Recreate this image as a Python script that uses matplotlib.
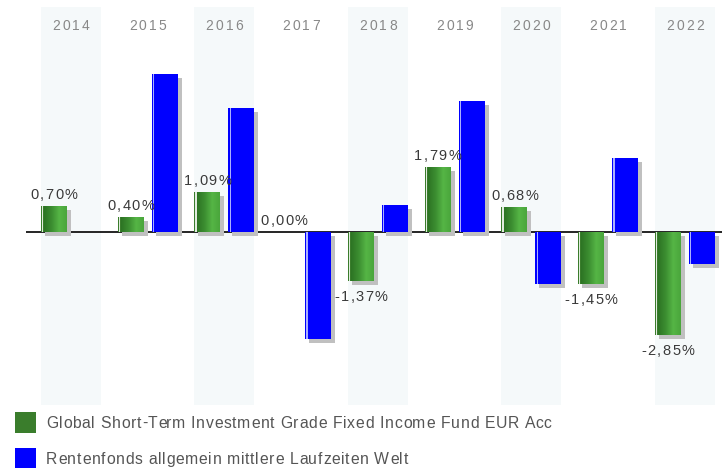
import numpy as np
import matplotlib
matplotlib.use("Agg")
import matplotlib.pyplot as plt
from matplotlib.colors import LinearSegmentedColormap
from matplotlib.patches import Rectangle
from matplotlib.font_manager import FontProperties
from matplotlib.transforms import ScaledTranslation, blended_transform_factory

# data (annual returns in %)
years = ["2014", "2015", "2016", "2017", "2018", "2019", "2020", "2021", "2022"]
fund = [0.70, 0.40, 1.09, 0.00, -1.37, 1.79, 0.68, -1.45, -2.85]
peer = [np.nan, 4.35, 3.41, -2.96, 0.73, 3.60, -1.44, 2.03, -0.89]
fund_name = "Global Short-Term Investment Grade Fixed Income Fund EUR Acc"
peer_name = "Rentenfonds allgemein mittlere Laufzeiten Welt"

GREEN = "#3a7d2c"
BLUE = "#0000ff"
SHADOW = "#c0c0c0"
BAND = "#f5f9fa"
FONT = "Liberation Sans"

plt.rcParams["font.family"] = [FONT, "DejaVu Sans"]

fig = plt.figure(figsize=(7.22, 4.68), dpi=100)
renderer = fig.canvas.get_renderer()


def spaced_text(x, y, s, transform, ha="center", va="baseline", size=10,
                color="#333333", spacing=1.0, zorder=6):
    """Draw text with extra letter spacing (in pixels), char by char."""
    prop = FontProperties(family=FONT, size=size)

    def w(t):
        if not t:
            return 0.0
        a = renderer.get_text_width_height_descent(t + "|", prop, ismath=False)[0]
        b = renderer.get_text_width_height_descent("|", prop, ismath=False)[0]
        return a - b

    pos = [w(s[:i]) + spacing * i for i in range(len(s))]
    total = w(s) + spacing * (len(s) - 1)
    start = {"left": 0.0, "center": -total / 2, "right": -total}[ha]
    for ch, p in zip(s, pos):
        if ch == " ":
            continue
        tr = transform + ScaledTranslation((start + p) / fig.dpi, 0, fig.dpi_scale_trans)
        fig.text(x, y, ch, transform=tr, ha="left", va=va, fontproperties=prop,
                 color=color, zorder=zorder)


ax = fig.add_axes([26 / 722, 1 - 405 / 468, 1 - 26 / 722, 398 / 468])
ax.set_xlim(-0.586, 8.483)
ax.set_ylim(-4.79, 6.20)
ax.axis("off")

x = np.arange(len(years))
width = 26 / 76.75
off = 17 / 76.75

# alternating background bands
for i in x[::2]:
    ax.axvspan(i - 0.391, i + 0.391, color=BAND, zorder=0, lw=0)

ax.axhline(0, color="black", lw=1.2, zorder=1)

shadow_tr = ax.transData + ScaledTranslation(4 / 100, -4 / 100, fig.dpi_scale_trans)
ax.bar(x - off, fund, width, color=SHADOW, transform=shadow_tr, zorder=2, lw=0)
ax.bar(x + off, peer, width, color=SHADOW, transform=shadow_tr, zorder=2, lw=0)

green_bars = ax.bar(x - off, fund, width, color=GREEN, zorder=3, lw=0)
blue_bars = ax.bar(x + off, peer, width, color=BLUE, zorder=3, lw=0)

# gradient fill on green bars
cmap = LinearSegmentedColormap.from_list(
    "g", ["#2d7424", "#3c8e31", "#55b545", "#4aa63c"])
grad = np.linspace(0, 1, 64).reshape(1, -1)
for b in green_bars:
    h = b.get_height()
    if h == 0:
        continue
    x0 = b.get_x() + 3 / 76.75
    x1 = b.get_x() + b.get_width()
    y0, y1 = sorted([0, h])
    im = ax.imshow(grad, cmap=cmap, aspect="auto", extent=[x0, x1, y0, y1],
                   zorder=4, interpolation="bilinear")
    im.set_clip_path(b)

# thin highlight stripe near the left edge
ax.bar(x - off - width / 2 + 1.5 / 76.75, fund, 1.2 / 76.75, color="white",
       alpha=0.85, zorder=5, lw=0)
ax.bar(x + off - width / 2 + 1.8 / 76.75, peer, 1.2 / 76.75, color="#aab0ff",
       zorder=5, lw=0)

# value labels on the fund bars (baseline offset in px)
for xi, v in zip(x, fund):
    dy = -20 if v < 0 else 6.7
    tr = ax.transData + ScaledTranslation(0, dy / 100, fig.dpi_scale_trans)
    spaced_text(xi - off, v, f"{v:.2f}%".replace(".", ","), tr,
                size=10.5, color="#3a3a3a", spacing=1.4)

# year labels
tr = blended_transform_factory(ax.transData, ax.transAxes)
for xi, yr in zip(x, years):
    spaced_text(xi, (405 - 30) / 398, yr, tr, size=10, color="#888888",
                spacing=2.2)

# legend
fig.add_artist(Rectangle((15 / 722, 1 - 433 / 468), 21 / 722, 21 / 468,
                         transform=fig.transFigure, color=GREEN, lw=0))
fig.add_artist(Rectangle((15 / 722, 1 - 468 / 468), 21 / 722, 20 / 468,
                         transform=fig.transFigure, color=BLUE, lw=0))
spaced_text(46 / 722, 1 - 428.3 / 468, fund_name, fig.transFigure, ha="left",
            size=11.3, color="#555555", spacing=0.7)
spaced_text(46 / 722, 1 - 464.3 / 468, peer_name, fig.transFigure, ha="left",
            size=11.3, color="#555555", spacing=0.7)

fig.savefig("out.png", dpi=100)
